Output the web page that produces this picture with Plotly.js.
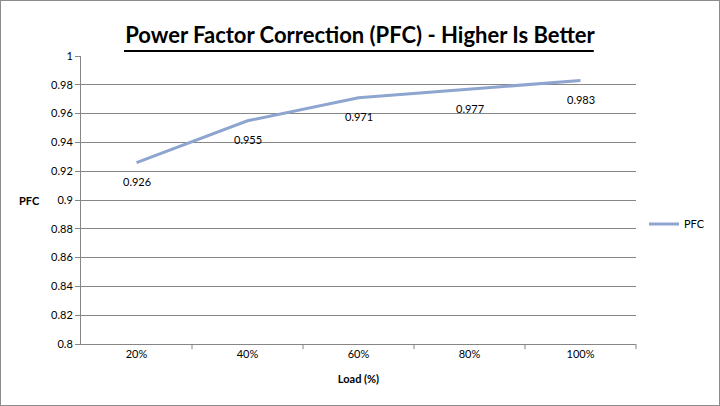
<!DOCTYPE html>
<html><head><meta charset="utf-8">
<script src="https://cdn.plot.ly/plotly-3.0.1.min.js"></script>
<style>
html,body{margin:0;padding:0;background:#fff;}
#chart{width:718px;height:404px;border:1px solid #8c8c8c;}
</style></head>
<body><div id="chart"></div>
<script>
const loads = ["20%", "40%", "60%", "80%", "100%"];
const pfc = [0.926, 0.955, 0.971, 0.977, 0.983];
const pfcLabels = ["0.926", "0.955", "0.971", "0.977", "0.983"];
const yTicks = [0.8, 0.82, 0.84, 0.86, 0.88, 0.9, 0.92, 0.94, 0.96, 0.98, 1];
const yTickText = ["0.8", "0.82", "0.84", "0.86", "0.88", "0.9", "0.92", "0.94", "0.96", "0.98", "1"];

const FONT = "Lato, 'Open Sans', sans-serif";
const trace = {
  x: loads, y: pfc, type: "scatter", mode: "lines", name: "PFC",
  line: {color: "#8ea5cf", width: 3}
};
const annotations = loads.map((l, i) => ({
  x: l, y: pfc[i], text: pfcLabels[i], showarrow: false,
  yshift: -19, font: {family: FONT, size: 11, color: "#000"}
}));
annotations.push({
  text: "<b>PFC</b>", xref: "paper", yref: "y", x: 0, y: 0.9,
  xanchor: "center", xshift: -52, showarrow: false,
  font: {family: FONT, size: 11, color: "#000"}
});
const layout = {
  width: 718, height: 404,
  margin: {l: 80, r: 83, t: 55, b: 61},
  paper_bgcolor: "#fff", plot_bgcolor: "#fff",
  font: {family: FONT, size: 11, color: "#000"},
  title: {text: "<b>Power Factor Correction (PFC) - Higher Is Better</b>",
    font: {family: FONT, size: 22, color: "#000"},
    x: 0.5, xref: "container", xanchor: "center",
    y: 1 - 34/404, yref: "container", yanchor: "middle"},
  xaxis: {type: "category", range: [-0.5, 4.5],
    showgrid: false, showline: true, linecolor: "#868686", linewidth: 1,
    ticks: "", tickfont: {family: FONT, size: 11},
    title: {text: "<b>Load (%)</b>", font: {family: FONT, size: 11}, standoff: 16},
    zeroline: false},
  yaxis: {range: [0.8, 1], tickvals: yTicks, ticktext: yTickText,
    showgrid: true, gridcolor: "#868686", gridwidth: 1,
    showline: true, linecolor: "#868686", linewidth: 1,
    ticks: "outside", ticklen: 5, tickcolor: "#868686",
    tickfont: {family: FONT, size: 11},
    zeroline: false},
  showlegend: true,
  legend: {x: 643/718, xref: "container", xanchor: "left",
    y: 1 - 223/404, yref: "container", yanchor: "middle",
    font: {family: FONT, size: 11}, itemwidth: 30, bgcolor: "rgba(0,0,0,0)"},
  annotations: annotations,
  shapes: [
    {type: "line", xref: "paper", yref: "paper", x0: 0.0775, x1: 0.924, y0: 1.0175, y1: 1.0175,
     line: {color: "#000", width: 2}},
    {type: "line", xref: "paper", yref: "paper", x0: 0.2, x1: 0.2, y0: 0, y1: -0.018, line: {color: "#868686", width: 1}},
    {type: "line", xref: "paper", yref: "paper", x0: 0.4, x1: 0.4, y0: 0, y1: -0.018, line: {color: "#868686", width: 1}},
    {type: "line", xref: "paper", yref: "paper", x0: 0.6, x1: 0.6, y0: 0, y1: -0.018, line: {color: "#868686", width: 1}},
    {type: "line", xref: "paper", yref: "paper", x0: 0.8, x1: 0.8, y0: 0, y1: -0.018, line: {color: "#868686", width: 1}},
    {type: "line", xref: "paper", yref: "paper", x0: 1, x1: 1, y0: 0, y1: -0.018, line: {color: "#868686", width: 1}}
  ]
};
Plotly.newPlot("chart", [trace], layout, {displayModeBar: false, staticPlot: true});
</script></body></html>
